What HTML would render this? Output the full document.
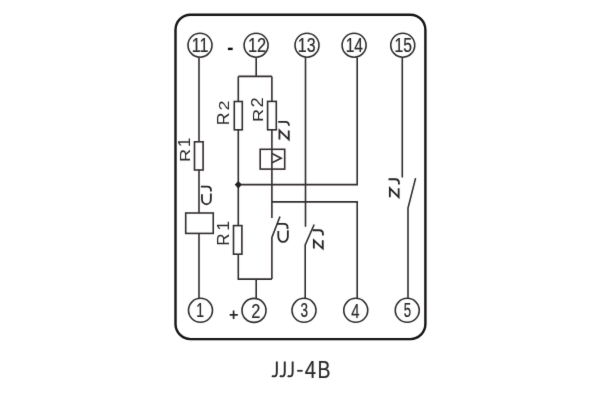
<!DOCTYPE html>
<html><head><meta charset="utf-8">
<style>
html,body{margin:0;padding:0;background:#fff;width:600px;height:400px;overflow:hidden}
svg{display:block}
text{font-family:"Liberation Sans",sans-serif;font-size:20px;fill:#2a2a2a}
</style></head>
<body>
<svg width="600" height="400" viewBox="0 0 600 400">
<defs><filter id="bl" x="0" y="0" width="600" height="400" filterUnits="userSpaceOnUse"><feConvolveMatrix order="3" kernelMatrix="0.0064 0.0672 0.0064 0.0672 0.7056 0.0672 0.0064 0.0672 0.0064" divisor="1" preserveAlpha="false" edgeMode="none"/></filter></defs>
<rect x="0" y="0" width="600" height="400" fill="#fff"/>
<g filter="url(#bl)">
<rect x="175.5" y="14.75" width="249.9" height="324.35" rx="15" ry="15" fill="none" stroke="#161313" stroke-width="2.4"/>
<g fill="none" stroke="#332f2f" stroke-width="1.6">
<circle cx="200" cy="45.2" r="12"/>
<circle cx="256.1" cy="45.2" r="12"/>
<circle cx="307" cy="45.2" r="12"/>
<circle cx="354.1" cy="45.2" r="12"/>
<circle cx="402.75" cy="45.2" r="12"/>
<circle cx="200.5" cy="310.3" r="12"/>
<circle cx="254" cy="310.4" r="12"/>
<circle cx="304" cy="310.3" r="12"/>
<circle cx="355.75" cy="310.3" r="12"/>
<circle cx="407.25" cy="310.3" r="12"/>
<path d="M199 57.2V141.7M199 169.8V213M199 233.4V298.3"/>
<rect x="194.5" y="141.8" width="8.6" height="28.2"/>
<rect x="185.7" y="213" width="27.55" height="20.4"/>
<path d="M256.2 57.2V76.4M238.3 76.4H271.9"/>
<path d="M238.3 76.4V101.5M238.3 129.8V225.6M238.3 254.2V279.1H271.9M256.2 279.1V298.3"/>
<rect x="234.3" y="101.5" width="8" height="28.3"/>
<rect x="233.5" y="225.6" width="8.4" height="28.6"/>
<path d="M271.9 76.4V101.4M271.9 129.8V218M280 216.5L271.9 237.5V279.1"/>
<rect x="267.6" y="101.4" width="8.7" height="28.4"/>
<rect x="260.2" y="149.3" width="24.5" height="19.8"/>
<path d="M272 153.5L281.2 158.3L272 162.8"/>
<path d="M238.3 184.6H357.2V57.2M271.9 201.9H357.2V298.3"/>
<path d="M305.5 57.2V226.8M314.2 224.5L305.2 245V298.3"/>
<path d="M402.3 57.2V177.5M415.6 178.1L408 208.1V298.3"/>
</g>
<path d="M238.3 181.8L241.1 184.6L238.3 187.6L235.5 184.6Z" fill="#222" stroke="#222" stroke-width="1.2" stroke-linejoin="round"/>
<path d="M227.9 48.9H232.7" stroke="#111" stroke-width="2.4"/>
<path d="M297.2 370.8H302.6" stroke="#2a2a2a" stroke-width="1.8"/>
<path d="M229.7 314.9H237.8M233.6 310.6V319" stroke="#2a2727" stroke-width="1.7" fill="none"/>
<g style="opacity:0.999">
<text transform="translate(191.85,51.73) scale(0.803,0.965)" stroke="#2a2a2a" stroke-width="0.226">11</text>
<text transform="translate(247.92,51.55) scale(0.820,0.986)" stroke="#2a2a2a" stroke-width="0.221">12</text>
<text transform="translate(297.85,52.07) scale(0.800,1.004)" stroke="#2a2a2a" stroke-width="0.222">13</text>
<text transform="translate(345.63,51.73) scale(0.778,0.965)" stroke="#2a2a2a" stroke-width="0.229">14</text>
<text transform="translate(394.62,52.00) scale(0.787,0.986)" stroke="#2a2a2a" stroke-width="0.226">15</text>
<text transform="translate(196.30,317.15) scale(0.697,0.989)" stroke="#2a2a2a" stroke-width="0.237">1</text>
<text transform="translate(251.23,317.65) scale(0.822,0.971)" stroke="#2a2a2a" stroke-width="0.223">2</text>
<text transform="translate(300.54,317.39) scale(0.674,1.039)" stroke="#2a2a2a" stroke-width="0.234">3</text>
<text transform="translate(351.18,317.65) scale(0.740,1.044)" stroke="#2a2a2a" stroke-width="0.224">4</text>
<text transform="translate(403.85,317.40) scale(0.663,1.007)" stroke="#2a2a2a" stroke-width="0.239">5</text>
<text transform="translate(304.79,377.65) scale(1.015,1.193)" stroke="#2a2a2a" stroke-width="0.181">4</text>
<text transform="translate(317.45,377.65) scale(0.971,1.185)" stroke="#2a2a2a" stroke-width="0.185">B</text>
<text transform="translate(228.55,110.45) rotate(-90) scale(0.900,0.764)">2</text>
<text transform="translate(228.55,125.34) rotate(-90) scale(0.881,0.778)">R</text>
<text transform="translate(262.75,107.47) rotate(-90) scale(0.917,0.779)">2</text>
<text transform="translate(262.55,122.04) rotate(-90) scale(0.911,0.778)">R</text>
<text transform="translate(189.80,147.06) rotate(-90) scale(0.840,0.785)">1</text>
<text transform="translate(189.55,162.04) rotate(-90) scale(0.911,0.767)">R</text>
<text transform="translate(228.65,230.87) rotate(-90) scale(0.880,0.829)">1</text>
<text transform="translate(228.55,245.63) rotate(-90) scale(0.847,0.822)">R</text>
<path fill="none" stroke="#262323" stroke-width="1.8" d="M278.22 121.85H285.32Q288.92 121.85 288.92 125.45V125.63M279.45 139.40V130.45L288.75 139.40V130.45M200.88 186.60H207.33Q210.93 186.60 210.93 190.20V191.47M201.95 194.15V199.13A4.45 5.12 0 0 0 210.85 199.13V193.55M276.95 223.85H283.95Q287.55 223.85 287.55 227.45V228.88M278.30 230.91V236.41A4.77 5.49 0 0 0 287.85 236.41V230.31M312.55 230.25H319.32Q322.92 230.25 322.92 233.85V235.47M313.85 248.55V240.37L322.75 248.55V240.37M388.55 179.25H395.32Q398.92 179.25 398.92 182.85V184.51M389.85 197.15V188.25L398.65 197.15V188.25"/>
<path fill="none" stroke="#2a2727" stroke-width="1.9" d="M276.85 361.50V372.00C276.85 375.90 275.05 376.40 274.20 376.40C273.10 376.40 272.40 376.00 272.10 375.60M284.75 361.50V372.00C284.75 375.90 282.95 376.40 282.05 376.40C280.95 376.40 280.25 376.00 279.95 375.60M292.65 361.50V372.00C292.65 375.90 290.85 376.40 289.90 376.40C288.80 376.40 288.10 376.00 287.80 375.60"/>
</g>
</g>
</svg>
</body></html>
